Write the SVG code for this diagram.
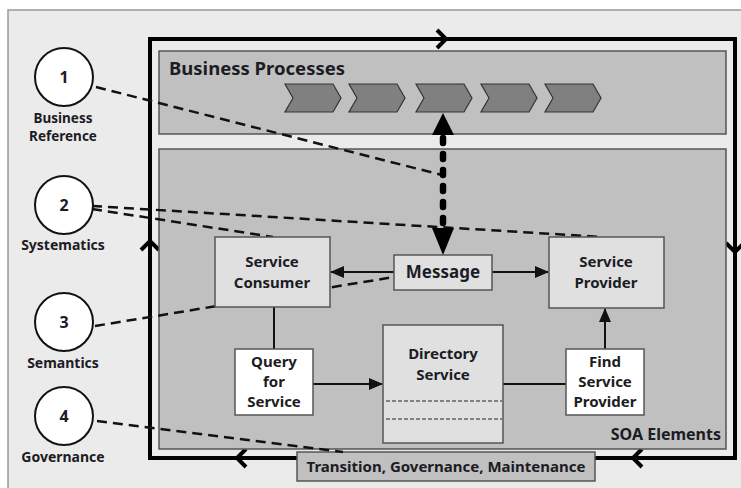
<svg xmlns="http://www.w3.org/2000/svg" width="741" height="488" viewBox="0 0 741 488">
<style>
text{font-family:"Noto Sans","Liberation Sans",sans-serif;font-weight:bold;fill:#1c1c24;text-anchor:middle}
.num{font-size:16px}
.lbl{font-size:14px}
.nt{font-size:15px}
.cont{fill:#c0c0c0;stroke:#555;stroke-width:1.5}
.node{fill:#e0e0e0;stroke:#555;stroke-width:1.5}
.wnode{fill:#fff;stroke:#555;stroke-width:1.5}
.circ{fill:#fff;stroke:#111;stroke-width:2}
.dash{stroke:#111;stroke-width:2.5;stroke-dasharray:10 6;fill:none}
.conn{stroke:#111;stroke-width:2;fill:none}
.loop{stroke:#000;stroke-width:4;fill:none}
.chev{fill:#808080;stroke:#333;stroke-width:1.2}
</style>
<defs>
<marker id="ah" markerUnits="userSpaceOnUse" markerWidth="14" markerHeight="14" viewBox="0 0 14 14" refX="13" refY="7" orient="auto">
<path d="M0,1 L14,7 L0,13 Z" fill="#111"/>
</marker>
</defs>
<rect x="0" y="0" width="741" height="488" fill="#fff"/>
<rect x="8" y="10" width="740" height="490" fill="#ebebeb" stroke="#999" stroke-width="1.5"/>

<g id="loop">
<rect class="loop" x="150" y="39" width="585" height="419"/>
<path class="loop" d="M437,30 L446,39 L437,48"/>
<path class="loop" d="M141,250 L150,241 L159,250"/>
<path class="loop" d="M726,243 L735,252 L744,243"/>
<path class="loop" d="M246,449 L237,458 L246,467"/>
<path class="loop" d="M642,449 L633,458 L642,467"/>
</g>

<g id="business-processes">
<rect class="cont" x="159" y="51" width="567" height="83"/>
<text x="169" y="75" style="font-size:18.5px;text-anchor:start">Business Processes</text>
<polygon class="chev" points="285,84 333,84 341,98 333,112 285,112 293,98"/>
<polygon class="chev" points="349,84 397,84 405,98 397,112 349,112 357,98"/>
<polygon class="chev" points="416,84 464,84 472,98 464,112 416,112 424,98"/>
<polygon class="chev" points="481,84 529,84 537,98 529,112 481,112 489,98"/>
<polygon class="chev" points="545,84 593,84 601,98 593,112 545,112 553,98"/>
</g>

<g id="soa-elements">
<rect class="cont" x="159" y="149" width="567" height="300"/>
<text x="721" y="440" style="font-size:16px;text-anchor:end">SOA Elements</text>
</g>

<g id="transition">
<rect class="cont" x="297" y="452" width="298" height="29"/>
<text x="446" y="472" style="font-size:15px">Transition, Governance, Maintenance</text>
</g>

<g id="c1"><circle class="circ" cx="64" cy="77" r="29"/><text class="num" x="64" y="83">1</text>
<text x="63" y="123" style="font-size:13.5px">Business</text><text x="63" y="141" style="font-size:13.5px">Reference</text></g>
<g id="c2"><circle class="circ" cx="64" cy="205" r="29"/><text class="num" x="64" y="211">2</text>
<text class="lbl" x="63" y="250">Systematics</text></g>
<g id="c3"><circle class="circ" cx="64" cy="322" r="29"/><text class="num" x="64" y="328">3</text>
<text class="lbl" x="63" y="368">Semantics</text></g>
<g id="c4"><circle class="circ" cx="64" cy="416" r="29"/><text class="num" x="64" y="422">4</text>
<text class="lbl" x="63" y="462">Governance</text></g>

<g id="connectors">
<line class="dash" x1="96" y1="87" x2="442" y2="175"/>
<line class="dash" x1="92" y1="206" x2="603" y2="237"/>
<line class="dash" x1="92" y1="209" x2="273" y2="237"/>
<line class="dash" x1="95" y1="326" x2="394" y2="277"/>
<line class="dash" x1="97" y1="421" x2="343" y2="452"/>
<line x1="443" y1="138" x2="443" y2="226" stroke="#000" stroke-width="6.5" stroke-linecap="round" stroke-dasharray="5 11"/>
<polygon points="443,113 432,135 454,135" fill="#000"/>
<polygon points="443,255 432,228 454,228" fill="#000"/>
<line class="conn" x1="394" y1="272" x2="331" y2="272" marker-end="url(#ah)"/>
<line class="conn" x1="492" y1="272" x2="548" y2="272" marker-end="url(#ah)"/>
<line class="conn" x1="274" y1="307" x2="274" y2="349"/>
<line class="conn" x1="313" y1="384" x2="382" y2="384" marker-end="url(#ah)"/>
<line class="conn" x1="503" y1="384" x2="566" y2="384"/>
<line class="conn" x1="605" y1="349" x2="605" y2="309" marker-end="url(#ah)"/>
</g>

<g id="service-consumer">
<rect class="node" x="215" y="237" width="115" height="70"/>
<text class="nt" x="272" y="267">Service</text><text class="nt" x="272" y="288">Consumer</text>
</g>
<g id="message">
<rect class="node" x="394" y="255" width="98" height="35"/>
<text x="443" y="278" style="font-size:17px">Message</text>
</g>
<g id="service-provider">
<rect class="node" x="549" y="237" width="115" height="71"/>
<text class="nt" x="606" y="267">Service</text><text class="nt" x="606" y="288">Provider</text>
</g>
<g id="query">
<rect class="wnode" x="235" y="349" width="78" height="66"/>
<text class="nt" x="274" y="367">Query</text><text class="nt" x="274" y="387">for</text><text class="nt" x="274" y="407">Service</text>
</g>
<g id="directory">
<rect class="node" x="383" y="325" width="120" height="118"/>
<text class="nt" x="443" y="359">Directory</text><text class="nt" x="443" y="380">Service</text>
<line x1="386" y1="401" x2="502" y2="401" stroke="#223" stroke-width="1.2" stroke-dasharray="4 2"/>
<line x1="386" y1="419" x2="502" y2="419" stroke="#223" stroke-width="1.2" stroke-dasharray="4 2"/>
</g>
<g id="find">
<rect class="wnode" x="566" y="349" width="78" height="66"/>
<text class="nt" x="605" y="367">Find</text><text class="nt" x="605" y="387">Service</text><text class="nt" x="605" y="407">Provider</text>
</g>
</svg>
